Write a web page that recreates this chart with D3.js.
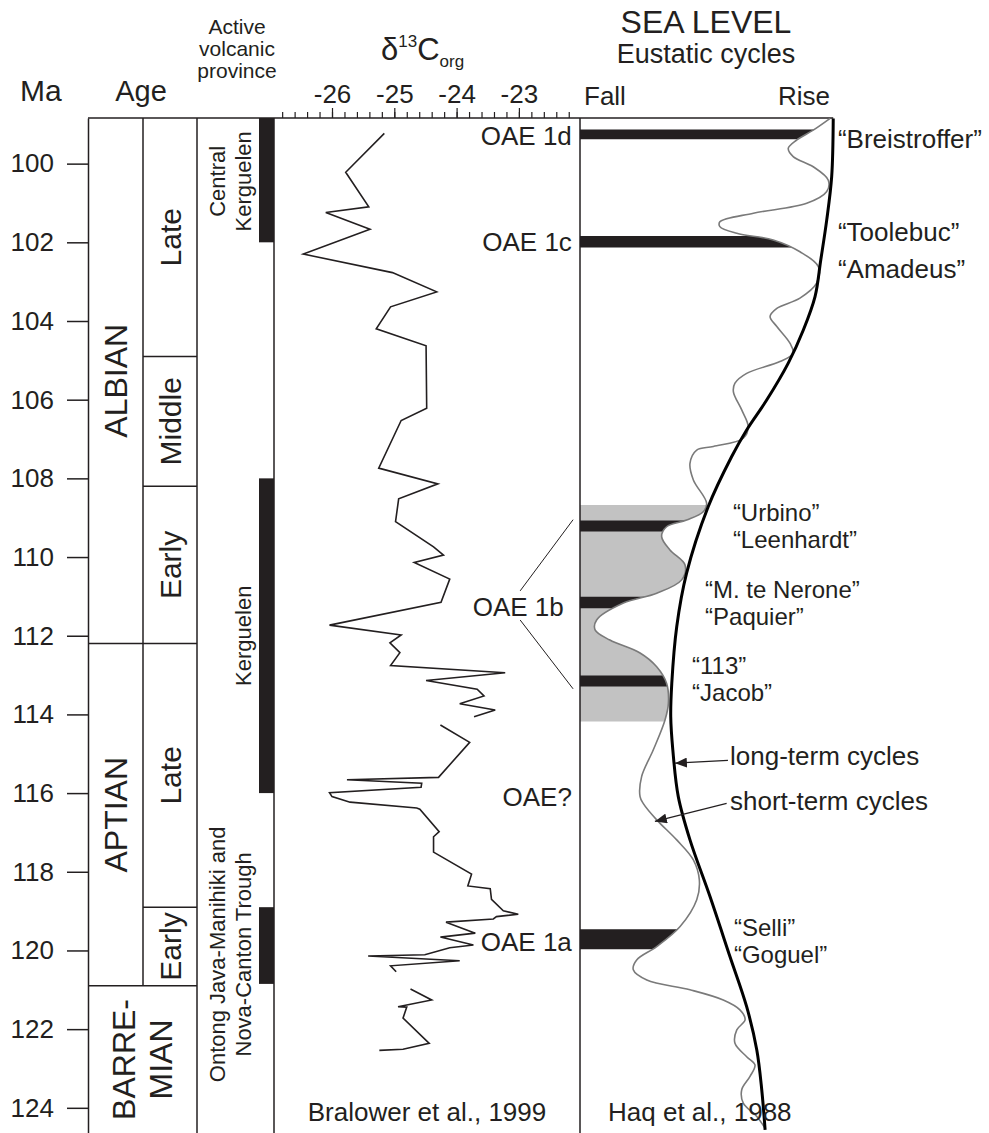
<!DOCTYPE html>
<html>
<head>
<meta charset="utf-8">
<script src="https://cdn.jsdelivr.net/npm/d3@7"></script>
<style>
  body { margin: 0; background: #fff; }
  text { font-family: "Liberation Sans", Arial, sans-serif; fill: #231f20; }
</style>
</head>
<body>
<svg id="chart" width="989" height="1133"></svg>
<script>
// ---- data (ages in Ma) ----
const ageTicks = d3.range(100, 125, 2);
const d13cTicks = [-26, -25, -24, -23];
const d13cMinorTicks = d3.range(-26.8, -22.1, 0.2);

const stageNames = ['ALBIAN', 'APTIAN', 'BARRE-|MIAN'];
const stageBase = [112.2, 120.9, 124.7];
const substageNames = ['Late', 'Middle', 'Early', 'Late', 'Early'];
const substageBase = [104.9, 108.2, 112.2, 118.9, 120.9];

const volcanicNames = ['Central|Kerguelen', 'Kerguelen', 'Ontong Java-Manihiki and|Nova-Canton Trough'];
const volcanicTop = [98.84, 108.0, 118.9];
const volcanicBase = [102.0, 116.0, 120.85];
const volcanicLabelAge = [100.45, 112.0, 120.1];

// Bralower et al., 1999 (null = gap in record)
const d13cAge = [99.23, 100.22, 101.10, 101.24, 101.67, 102.30, 102.77, 103.26, 103.64, 104.20,
  104.63, 106.22, 106.53, 107.74, 108.14, 108.52, 109.10, 109.74, 109.95, 110.14,
  110.56, 111.15, 111.73, 111.98, 112.18, 112.43, 112.76, 112.94, 113.14, 113.36,
  113.53, 113.73, 113.89, 114.06, null,
  114.27, 114.71, 115.60, 115.66, 115.75, 115.85, 115.99, 116.09, 116.23, 116.38,
  116.41, 116.98, 117.11, 117.50, 118.06, 118.36, 118.43, 118.70, 118.99, 119.08,
  119.14, 119.20, 119.28, 119.56, 119.66, 119.86, 119.93, 120.11, 120.14, 120.26,
  120.39, 120.54, null,
  120.98, 121.26, 121.43, 121.44, 121.72, 122.36, 122.51, 122.54];
const d13cValue = [-25.16, -25.78, -25.41, -26.10, -25.39, -26.46, -25.03, -24.32, -25.06, -25.29,
  -24.49, -24.48, -24.89, -25.25, -24.30, -24.93, -24.98, -24.37, -24.21, -24.68,
  -24.11, -24.25, -26.04, -24.89, -25.07, -24.91, -25.06, -23.22, -24.49, -23.67,
  -23.56, -23.95, -23.38, -23.72, null,
  -24.26, -23.79, -24.29, -25.76, -24.56, -24.57, -26.04, -26.00, -25.71, -24.64,
  -24.59, -24.28, -24.37, -24.37, -23.76, -23.82, -23.46, -23.44, -23.25, -23.01,
  -23.36, -23.41, -24.17, -23.70, -24.26, -23.73, -24.11, -24.51, -25.42, -23.95,
  -25.06, -24.97, null,
  -24.74, -24.40, -24.94, -24.80, -24.86, -24.44, -24.86, -25.24];

const oaeLabels = ['OAE 1d', 'OAE 1c', 'OAE 1b', 'OAE?', 'OAE 1a'];
const oaeLabelAge = [99.3, 102.0, 111.26, 116.1, 119.78];
const oaeLabelD13c = [-22.15, -22.15, -22.28, -22.15, -22.15];
// connectors from "OAE 1b" to its events
const linkFromAge = [110.86, 111.6];
const linkToAge = [109.05, 113.35];
const linkFromD13c = -22.98;
const linkToD13c = -22.13;

// Haq et al., 1988 - relative sea level (0 = fall, 100 = rise)
const shortAge = [98.85, 99.15, 99.40, 99.61, 99.82, 100.08, 100.42, 100.71, 101.01, 101.26,
  101.48, 101.60, 101.77, 101.94, 102.24, 102.62, 103.04, 103.42, 103.68, 103.89,
  104.14, 104.57, 104.82, 105.03, 105.33, 105.58, 105.80, 106.26, 106.69, 106.98,
  107.19, 107.28, 107.62, 108.04, 108.63, 108.85, 109.06, 109.23, 109.48, 109.82,
  110.20, 110.58, 110.92, 111.17, 111.60, 111.85, 112.11, 112.44, 112.79, 113.21,
  113.72, 114.14, 114.90, 115.58, 116.09, 116.26, 116.68, 117.19, 117.70, 118.21,
  118.71, 119.39, 119.90, 120.24, 120.49, 120.75, 121.00, 121.26, 121.51, 121.76,
  122.02, 122.36, 122.70, 122.91, 123.20, 123.54, 123.88, 124.22, 124.52];
const shortLevel = [96.2, 89.7, 83.3, 80.1, 82.0, 89.7, 95.5, 94.9, 87.2, 66.7,
  53.8, 53.8, 60.3, 74.3, 84.6, 91.7, 91.0, 84.6, 75.7, 73.1,
  75.7, 80.8, 82.0, 76.9, 64.1, 59.6, 59.0, 62.2, 64.7, 62.8,
  51.3, 44.9, 42.3, 43.6, 48.7, 47.4, 41.0, 33.3, 31.4, 34.6,
  40.4, 39.1, 29.5, 16.7, 6.4, 5.8, 11.5, 23.1, 29.5, 33.3,
  34.0, 32.7, 28.2, 23.7, 23.1, 24.3, 29.5, 37.2, 43.6, 45.9,
  44.9, 38.5, 29.5, 21.8, 20.5, 25.7, 42.3, 55.1, 61.5, 63.5,
  60.3, 59.6, 64.1, 67.3, 65.4, 62.2, 62.8, 68.0, 71.2];
const longAge = [98.85, 100.33, 101.43, 102.45, 103.38, 104.23, 105.07, 106.01, 106.77, 107.45,
  108.72, 110.41, 111.77, 113.21, 114.06, 114.90, 116.09, 117.19, 118.63, 120.16,
  121.43, 122.53, 123.54, 124.56];
const longLevel = [97.4, 96.8, 94.9, 92.6, 90.4, 85.9, 80.1, 71.8, 64.1, 58.3,
  49.3, 41.0, 37.2, 35.3, 34.9, 35.7, 37.8, 42.3, 50.0, 57.7,
  64.1, 68.0, 69.9, 71.2];

// OAE events (black bands) and the OAE 1b interval (grey)
const oaeTop = [99.13, 101.84, 109.07, 111.01, 113.01, 119.46];
const oaeBase = [99.38, 102.13, 109.35, 111.30, 113.29, 119.97];
const oae1bZone = [108.68, 114.18];

// event names, one entry per label block ('|' = new line)
const eventNames = ['“Breistroffer”', '“Toolebuc”', '“Amadeus”', '“Urbino”|“Leenhardt”',
  '“M. te Nerone”|“Paquier”', '“113”|“Jacob”', '“Selli”|“Goguel”'];
const eventAge = [99.36, 101.74, 102.68, 108.86, 110.84, 112.75, 119.43];
const eventLevel = [99.2, 99.2, 99.2, 58.8, 48.1, 43.1, 59.2];

const cycleNames = ['long-term cycles', 'short-term cycles'];
const cycleAge = [115.05, 116.2];
const cycleLevel = [57.7, 57.7];
const arrowFrom = [[56.9, 115.17], [56.4, 116.26]];
const arrowTo = [[36.5, 115.24], [28.8, 116.72]];

// ---- layout ----
const ink = '#231f20';
const svg = d3.select('#chart');
const y = d3.scaleLinear().domain([98.84, 124.64]).range([118, 1133]);
const xC = d3.scaleLinear().domain([-27, -22]).range([269.7, 581.2]);
const xS = d3.scaleLinear().domain([0, 100]).range([580, 840]);
const colMa = 88, colSub = 143, colVolc = 197, colD13 = 274, colSea = 580;
const plotTop = y.range()[0], plotBottom = y.range()[1];

svg.append('defs').append('marker')
  .attr('id', 'arrow').attr('viewBox', '0 0 12 10')
  .attr('refX', 12).attr('refY', 5)
  .attr('markerWidth', 12).attr('markerHeight', 10)
  .attr('markerUnits', 'userSpaceOnUse').attr('orient', 'auto')
  .append('path').attr('d', 'M0,0L12,5L0,10Z').attr('fill', ink);

// headers
const head = svg.append('g');
head.append('text').attr('x', 20).attr('y', 101).attr('font-size', 30).text('Ma');
head.append('text').attr('x', 141).attr('y', 101).attr('font-size', 29).attr('text-anchor', 'middle').text('Age');
['Active', 'volcanic', 'province'].forEach((s, i) => {
  head.append('text').attr('x', 237).attr('y', 34 + i * 22).attr('font-size', 21)
    .attr('text-anchor', 'middle').text(s);
});
const dt = head.append('text').attr('x', 381).attr('y', 60).attr('font-size', 31);
dt.append('tspan').text('δ');
dt.append('tspan').attr('dy', -13).attr('font-size', 17).text('13');
dt.append('tspan').attr('dy', 13).text('C');
dt.append('tspan').attr('dy', 7).attr('font-size', 17).text('org');
head.append('text').attr('x', 706).attr('y', 33).attr('font-size', 32).attr('text-anchor', 'middle').text('SEA LEVEL');
head.append('text').attr('x', 706).attr('y', 63).attr('font-size', 27).attr('text-anchor', 'middle').text('Eustatic cycles');
head.append('text').attr('x', 584).attr('y', 105).attr('font-size', 26).text('Fall');
head.append('text').attr('x', 778).attr('y', 105).attr('font-size', 26).text('Rise');

// y axis (Ma)
const yAxis = svg.append('g').attr('transform', `translate(${colMa},0)`)
  .call(d3.axisLeft(y).tickValues(ageTicks).tickSize(21).tickPadding(13).tickSizeOuter(0));
yAxis.selectAll('line,path').attr('stroke', ink).attr('stroke-width', 1.5);
yAxis.selectAll('text').attr('font-size', 26).attr('fill', ink);
yAxis.attr('font-family', null);

// d13C axis
const xMinor = svg.append('g').attr('transform', `translate(0,${plotTop})`)
  .call(d3.axisTop(xC).tickValues(d13cMinorTicks).tickSize(6).tickFormat(''));
const xMajor = svg.append('g').attr('transform', `translate(0,${plotTop})`)
  .call(d3.axisTop(xC).tickValues(d13cTicks).tickSize(10).tickPadding(5).tickFormat(d => String(d)));
[xMinor, xMajor].forEach(g => {
  g.select('.domain').remove();
  g.selectAll('line').attr('stroke', ink).attr('stroke-width', 1.2);
  g.attr('font-family', null);
});
xMajor.selectAll('text').attr('font-size', 26).attr('fill', ink);

// sea-level fills
const seaCurve = d3.curveCatmullRom.alpha(0.5);
const shortTerm = shortAge.map((a, i) => ({ age: a, v: shortLevel[i] }));
const longTerm = longAge.map((a, i) => ({ age: a, v: longLevel[i] }));
const fillArea = d3.area().curve(seaCurve).y(d => y(d.age)).x0(xS(0)).x1(d => xS(d.v));
const bands = [{ id: 'zone', top: oae1bZone[0], base: oae1bZone[1], fill: '#c2c2c2' }]
  .concat(oaeTop.map((t, i) => ({ id: 'oae' + i, top: t, base: oaeBase[i], fill: ink })));
const defs = svg.select('defs');
bands.forEach(b => {
  defs.append('clipPath').attr('id', 'clip-' + b.id)
    .append('rect').attr('x', xS(0)).attr('width', 989 - xS(0))
    .attr('y', y(b.top)).attr('height', y(b.base) - y(b.top));
  svg.append('path').datum(shortTerm)
    .attr('clip-path', `url(#clip-${b.id})`)
    .attr('d', fillArea).attr('fill', b.fill);
});

// frame
const frame = svg.append('g').attr('stroke', ink).attr('stroke-width', 1.5).attr('fill', 'none');
frame.append('line').attr('x1', colMa).attr('x2', xS(longLevel[0])).attr('y1', plotTop).attr('y2', plotTop);
frame.append('line').attr('x1', colSub).attr('x2', colSub).attr('y1', plotTop).attr('y2', y(substageBase[substageBase.length - 1]));
[colVolc, colD13, colSea].forEach(x => {
  frame.append('line').attr('x1', x).attr('x2', x).attr('y1', plotTop).attr('y2', plotBottom);
});
stageBase.slice(0, -1).forEach(a => {
  frame.append('line').attr('x1', colMa).attr('x2', colSub).attr('y1', y(a)).attr('y2', y(a));
});
substageBase.forEach(a => {
  frame.append('line').attr('x1', colSub).attr('x2', colVolc).attr('y1', y(a)).attr('y2', y(a));
});

function vText(x, cy, lines, size, gap) {
  const t = svg.append('text').attr('transform', `translate(${x},${cy}) rotate(-90)`)
    .attr('text-anchor', 'middle').attr('font-size', size);
  lines.forEach((s, i) => t.append('tspan').attr('x', 0)
    .attr('y', (i - (lines.length - 1) / 2) * gap).attr('dy', '0.35em').text(s));
}

// stages / substages
stageNames.forEach((n, i) => {
  const top = i === 0 ? y.domain()[0] : stageBase[i - 1];
  const base = Math.min(stageBase[i], y.domain()[1]);
  const lines = n.split('|');
  const cx = lines.length > 1 ? (colMa + colVolc) / 2 : (colMa + colSub) / 2;
  vText(cx, y((top + base) / 2), lines, 32, 36.5);
});
substageNames.forEach((n, i) => {
  const top = i === 0 ? y.domain()[0] : substageBase[i - 1];
  vText((colSub + colVolc) / 2, y((top + substageBase[i]) / 2), [n], 30, 0);
});

// volcanic provinces
svg.append('g').selectAll('rect').data(volcanicTop).join('rect')
  .attr('x', colD13 - 15).attr('width', 15)
  .attr('y', d => y(d)).attr('height', (d, i) => y(volcanicBase[i]) - y(d))
  .attr('fill', ink);
volcanicNames.forEach((n, i) => {
  const lines = n.split('|');
  vText(243 - (lines.length - 1) * 12.75, y(volcanicLabelAge[i]), lines, 22, 25.5);
});

// d13C curve
const d13c = d13cAge.map((a, i) => ({ age: a, v: d13cValue[i] }));
svg.append('path').datum(d13c)
  .attr('d', d3.line().defined(d => d.v != null).x(d => xC(d.v)).y(d => y(d.age)))
  .attr('fill', 'none').attr('stroke', ink).attr('stroke-width', 1.6).attr('stroke-linejoin', 'miter');

oaeLabels.forEach((n, i) => {
  svg.append('text').attr('x', xC(oaeLabelD13c[i])).attr('y', y(oaeLabelAge[i])).attr('dy', '0.35em')
    .attr('text-anchor', 'end').attr('font-size', 26).text(n);
});
linkFromAge.forEach((a, i) => {
  svg.append('line').attr('x1', xC(linkFromD13c)).attr('y1', y(a))
    .attr('x2', xC(linkToD13c)).attr('y2', y(linkToAge[i]))
    .attr('stroke', ink).attr('stroke-width', 1);
});
svg.append('text').attr('x', (colD13 + colSea) / 2).attr('y', 1121).attr('text-anchor', 'middle')
  .attr('font-size', 26).text('Bralower et al., 1999');

// sea-level curves
svg.append('path').datum(shortTerm)
  .attr('d', d3.line().curve(seaCurve).x(d => xS(d.v)).y(d => y(d.age)))
  .attr('fill', 'none').attr('stroke', '#7a7a7a').attr('stroke-width', 1.6);
svg.append('path').datum(longTerm)
  .attr('d', d3.line().curve(seaCurve).x(d => xS(d.v)).y(d => y(d.age)))
  .attr('fill', 'none').attr('stroke', '#000').attr('stroke-width', 3);

eventNames.forEach((n, i) => {
  const lines = n.split('|');
  const size = lines.length > 1 ? 24 : 26;
  const t = svg.append('text').attr('font-size', size);
  lines.forEach((s, j) => {
    t.append('tspan').attr('x', xS(eventLevel[i])).attr('y', y(eventAge[i]) + j * 27)
      .attr('dy', '0.35em').text(s);
  });
});
cycleNames.forEach((n, i) => {
  svg.append('text').attr('x', xS(cycleLevel[i])).attr('y', y(cycleAge[i])).attr('dy', '0.35em')
    .attr('font-size', 26).text(n);
  svg.append('line')
    .attr('x1', xS(arrowFrom[i][0])).attr('y1', y(arrowFrom[i][1]))
    .attr('x2', xS(arrowTo[i][0])).attr('y2', y(arrowTo[i][1]))
    .attr('stroke', ink).attr('stroke-width', 1.2).attr('marker-end', 'url(#arrow)');
});
svg.append('text').attr('x', 608).attr('y', 1121).attr('font-size', 26).text('Haq et al., 1988');
</script>
</body>
</html>
